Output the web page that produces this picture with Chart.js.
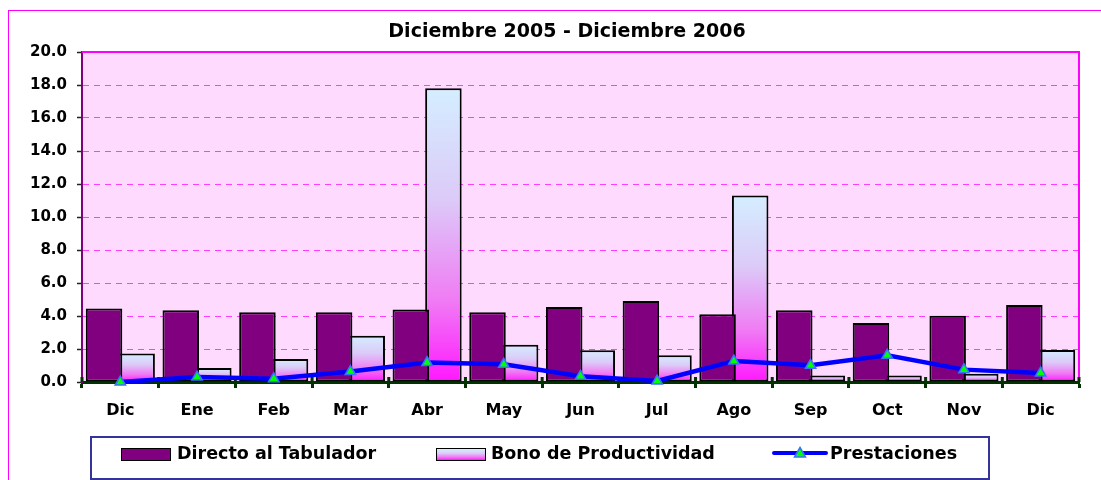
<!DOCTYPE html>
<html>
<head>
<meta charset="utf-8">
<script src="https://cdn.jsdelivr.net/npm/chart.js@4"></script>
<style>
  body { margin: 0; background: #fff; }
  #wrap { position: relative; width: 1101px; height: 480px; overflow: hidden;
          font-family: "DejaVu Sans", sans-serif; font-weight: bold; color: #000; }
  #frame { position: absolute; left: 8px; top: 10px; width: 1200px; height: 600px;
           border: 1.5px solid #ff00ff; }
  #c { position: absolute; left: 0; top: 0; }
  #title { position: absolute; left: 317px; width: 500px; top: 18px; text-align: center;
           font-size: 19px; line-height: 24px; white-space: nowrap; }
  #legend { position: absolute; left: 90px; top: 436px; width: 900px; height: 44px;
            box-sizing: border-box; border: 2.7px solid #333399; }
  .sw { position: absolute; box-sizing: border-box; border: 1.5px solid #000; }
  .lt { position: absolute; font-size: 17.5px; line-height: 20px; top: 443px; white-space: nowrap; }
</style>
</head>
<body>
<div id="wrap">
  <div id="frame"></div>
  <canvas id="c" width="1101" height="480"></canvas>
  <div id="title">Diciembre 2005 - Diciembre 2006</div>
  <div id="legend"></div>
  <div class="sw" style="left:121px;top:448px;width:50px;height:13px;background:#800080;"></div>
  <div class="lt" style="left:177px;">Directo al Tabulador</div>
  <div class="sw" style="left:436px;top:448px;width:50px;height:13px;background:linear-gradient(#d6eeff,#dccaf8 40%,#f276f4 75%,#ff1cff);"></div>
  <div class="lt" style="left:491px;">Bono de Productividad</div>
  <svg style="position:absolute;left:770px;top:443px;" width="60" height="20">
    <line x1="4" y1="10" x2="56" y2="10" stroke="#0000ff" stroke-width="4" stroke-linecap="round"/>
    <polygon points="30,4.5 35.5,14 24.5,14" fill="#00ff00" stroke="#3a70ff" stroke-width="1.5"/>
  </svg>
  <div class="lt" style="left:830px;">Prestaciones</div>
</div>
<script>
const categories   = ['Dic','Ene','Feb','Mar','Abr','May','Jun','Jul','Ago','Sep','Oct','Nov','Dic'];
const directo      = [4.45, 4.35, 4.22, 4.22, 4.39, 4.22, 4.55, 4.91, 4.10, 4.35, 3.58, 4.02, 4.67];
const bono         = [1.72, 0.85, 1.39, 2.81, 17.8, 2.26, 1.92, 1.62, 11.3, 0.40, 0.40, 0.50, 1.94];
const prestaciones = [0.00, 0.30, 0.20, 0.63, 1.18, 1.07, 0.35, 0.06, 1.27, 1.01, 1.62, 0.75, 0.55];
const yTicks = { min: 0, max: 20, step: 2 };

const FONT = '"DejaVu Sans", sans-serif';

function bonoFill(ctx) {
  const chart = ctx.chart;
  const y = chart.scales && chart.scales.y;
  if (ctx.type !== 'data' || !y) return '#e0c8f8';
  const v = ctx.raw;
  const top = y.getPixelForValue(v), base = y.getPixelForValue(0);
  if (!isFinite(top) || !isFinite(base) || top >= base) return '#ff40ff';
  const g = chart.ctx.createLinearGradient(0, top, 0, base);
  g.addColorStop(0, '#d4eeff');
  g.addColorStop(0.38, '#dccaf8');
  g.addColorStop(0.72, '#f07cf4');
  g.addColorStop(1, '#ff18ff');
  return g;
}

const decor = {
  id: 'decor',
  beforeDraw(chart) {
    const { ctx, chartArea: a } = chart;
    ctx.save();
    ctx.fillStyle = '#ffdaff';
    ctx.fillRect(a.left, a.top, a.right - a.left, a.bottom - a.top);
    ctx.restore();
  },
  beforeDatasetsDraw(chart) {
    const { ctx, chartArea: a } = chart;
    const xs = chart.scales.x;
    ctx.save();
    ctx.strokeStyle = '#ff00ff';
    ctx.lineWidth = 2;
    ctx.beginPath();
    ctx.moveTo(a.left, a.top);
    ctx.lineTo(a.right, a.top);
    ctx.lineTo(a.right, a.bottom);
    ctx.stroke();
    const n = categories.length;
    const w = (xs.right - xs.left) / n;
    ctx.strokeStyle = '#003300';
    ctx.lineWidth = 3;
    ctx.beginPath();
    for (let i = 0; i <= n; i++) {
      const x = xs.getPixelForValue(Math.min(i, n - 1)) + (i === n ? w / 2 : -w / 2);
      ctx.moveTo(x, a.bottom);
      ctx.lineTo(x, a.bottom - 5);
    }
    ctx.stroke();
    ctx.restore();
  }
};

new Chart(document.getElementById('c'), {
  type: 'bar',
  data: {
    labels: categories,
    datasets: [
      { label: 'Directo al Tabulador', data: directo, backgroundColor: '#800080',
        borderColor: '#000', borderWidth: 2, borderSkipped: false,
        categoryPercentage: 0.85, barPercentage: 1.12 },
      { label: 'Bono de Productividad', data: bono, backgroundColor: bonoFill,
        borderColor: '#000', borderWidth: 2, borderSkipped: false,
        categoryPercentage: 0.85, barPercentage: 1.12 },
      { type: 'line', label: 'Prestaciones', data: prestaciones, order: -1,
        borderColor: '#0000ff', borderWidth: 4.5, tension: 0, fill: false, clip: false,
        pointStyle: 'triangle', pointRadius: 6, pointHoverRadius: 6,
        pointBackgroundColor: '#00ff00', pointBorderColor: '#3a70ff', pointBorderWidth: 1.5 }
    ]
  },
  options: {
    responsive: false,
    animation: false,
    devicePixelRatio: 1,
    layout: { padding: { left: 0, right: 22, top: 52, bottom: 0 } },
    plugins: { legend: { display: false }, title: { display: false }, tooltip: { enabled: false } },
    scales: {
      x: {
        offset: true,
        grid: { display: true, offset: true, drawOnChartArea: false, drawTicks: true,
                tickLength: 6, tickColor: '#003300', tickWidth: 3 },
        border: { display: true, color: '#003300', width: 3 },
        ticks: { color: '#000', padding: 13, font: { family: FONT, size: 16, weight: 'bold' },
                 maxRotation: 0, autoSkip: false },
        afterFit(scale) { scale.height = 98; }
      },
      y: {
        min: yTicks.min, max: yTicks.max,
        ticks: { stepSize: yTicks.step, color: '#000', padding: 10,
                 font: { family: FONT, size: 15, weight: 'bold' },
                 callback: v => Number(v).toFixed(1) },
        grid: {
          color: c => (c.tick && (c.tick.value === yTicks.min || c.tick.value === yTicks.max)) ? 'rgba(0,0,0,0)' : '#ff3cff',
          lineWidth: 1, tickLength: 5, tickColor: '#222', tickWidth: 1.5
        },
        border: { display: true, color: '#800080', width: 2, dash: [6, 5] },
        afterFit(scale) { scale.width = 82; }
      }
    }
  },
  plugins: [decor]
});
</script>
</body>
</html>
